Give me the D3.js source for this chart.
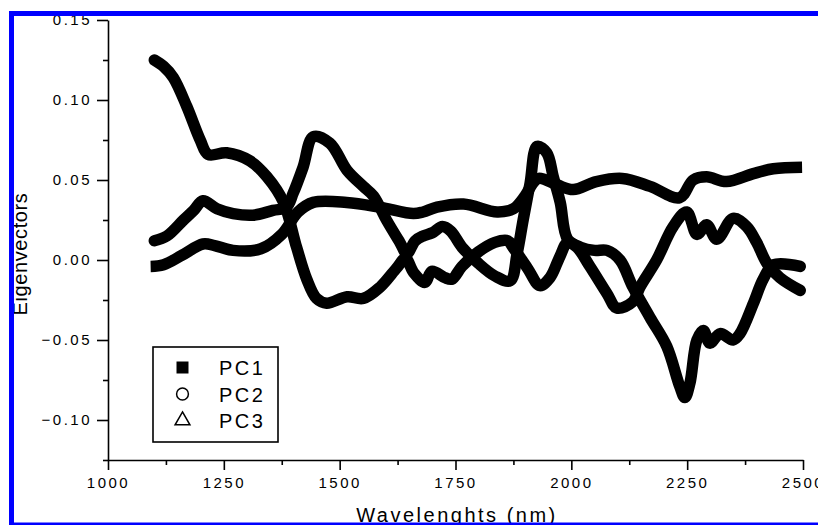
<!DOCTYPE html>
<html>
<head>
<meta charset="utf-8">
<script src="https://cdn.jsdelivr.net/npm/d3@7/dist/d3.min.js"></script>
<style>
  body { margin: 0; background: #fff; }
  svg { display: block; font-family: 'Liberation Sans', Arial, sans-serif; }
</style>
</head>
<body>
<script>
// values
var pc1Wave = [1092, 1120, 1160, 1205, 1230, 1270, 1330, 1375, 1410, 1443, 1515, 1587, 1659, 1680, 1710, 1767, 1840, 1875, 1900, 1917, 1930, 1969, 2004, 2054, 2110, 2170, 2234, 2263, 2292, 2335, 2393, 2436, 2498]
var pc1Val = [-0.004, -0.003, 0.003, 0.010, 0.009, 0.006, 0.007, 0.016, 0.030, 0.036, 0.036, 0.033, 0.029, 0.030, 0.033, 0.035, 0.030, 0.032, 0.040, 0.048, 0.051, 0.047, 0.044, 0.049, 0.051, 0.046, 0.039, 0.050, 0.052, 0.049, 0.054, 0.057, 0.058]

var pc2Wave = [1100, 1120, 1141, 1170, 1199, 1216, 1256, 1306, 1343, 1379, 1407, 1429, 1450, 1472, 1516, 1551, 1587, 1623, 1642, 1660, 1684, 1699, 1727, 1742, 1764, 1799, 1835, 1863, 1874, 1905, 1932, 1954, 1975, 1992, 2012, 2040, 2077, 2098, 2133, 2148, 2184, 2220, 2249, 2271, 2292, 2314, 2349, 2378, 2400, 2422, 2450, 2494]
var pc2Val = [0.125, 0.121, 0.114, 0.096, 0.075, 0.066, 0.067, 0.062, 0.052, 0.036, 0.008, -0.012, -0.024, -0.027, -0.023, -0.024, -0.017, -0.005, 0.001, -0.008, -0.014, -0.007, -0.011, -0.012, -0.004, 0.005, 0.011, 0.012, 0.008, -0.005, -0.016, -0.011, 0.002, 0.011, 0.008, -0.004, -0.021, -0.030, -0.026, -0.017, 0.000, 0.021, 0.030, 0.016, 0.022, 0.013, 0.026, 0.021, 0.011, -0.002, -0.011, -0.019]

var pc3Wave = [1100, 1127, 1163, 1185, 1205, 1235, 1270, 1313, 1356, 1385, 1400, 1421, 1443, 1479, 1516, 1551, 1573, 1601, 1630, 1645, 1663, 1680, 1700, 1722, 1740, 1764, 1799, 1835, 1868, 1883, 1896, 1911, 1926, 1947, 1961, 1976, 1992, 2020, 2050, 2077, 2105, 2133, 2170, 2206, 2234, 2245, 2256, 2271, 2285, 2299, 2321, 2349, 2364, 2393, 2414, 2436, 2494]
var pc3Val = [0.012, 0.015, 0.025, 0.031, 0.037, 0.032, 0.029, 0.028, 0.031, 0.033, 0.042, 0.058, 0.077, 0.073, 0.056, 0.046, 0.040, 0.025, 0.011, 0.004, 0.012, 0.015, 0.017, 0.021, 0.018, 0.008, -0.002, -0.010, -0.013, 0.004, 0.025, 0.048, 0.071, 0.067, 0.052, 0.036, 0.013, 0.008, 0.006, 0.006, 0.000, -0.017, -0.036, -0.054, -0.079, -0.086, -0.077, -0.050, -0.044, -0.052, -0.046, -0.050, -0.046, -0.027, -0.012, -0.003, -0.004]

var xMajorTicks = [1000, 1250, 1500, 1750, 2000, 2250, 2500]
var xMinorTicks = [1125, 1375, 1625, 1875, 2125, 2375]
var yMajorTicks = [-0.10, -0.05, 0.00, 0.05, 0.10, 0.15]
var yMinorTicks = [-0.125, -0.075, -0.025, 0.025, 0.075, 0.125]
var legendLabels = ['PC1', 'PC2', 'PC3']

var svg = d3.select('body').append('svg')
  .attr('width', 818)
  .attr('height', 525)

svg.append('rect').attr('width', 818).attr('height', 525).attr('fill', '#fff')

// plot area in pixels
var x = d3.scaleLinear().domain([1000, 2500]).range([108, 803])
var y = d3.scaleLinear().domain([-0.125, 0.15]).range([460, 20])

function zip (w, v) {
  return w.map(function (d, i) { return { w: d, v: v[i] } })
}

var line = d3.line()
  .x(function (d) { return x(d.w) })
  .y(function (d) { return y(d.v) })
  .curve(d3.curveCatmullRom.alpha(0.5))

// the series: dense symbols in the original, drawn as thick bands here
var series = [
  { name: 'PC1', data: zip(pc1Wave, pc1Val), cap: 'butt' },
  { name: 'PC2', data: zip(pc2Wave, pc2Val), cap: 'round' },
  { name: 'PC3', data: zip(pc3Wave, pc3Val), cap: 'round' }
]

svg.append('g').selectAll('path')
  .data(series)
  .enter().append('path')
  .attr('d', function (d) { return line(d.data) })
  .attr('fill', 'none')
  .attr('stroke', '#000')
  .attr('stroke-width', 11.5)
  .attr('stroke-linejoin', 'round')
  .attr('stroke-linecap', function (d) { return d.cap })

// axes
var xAxis = d3.axisBottom(x).tickValues(xMajorTicks).tickSize(10).tickSizeOuter(0).tickPadding(7)
  .tickFormat(d3.format('d'))
var xMinor = d3.axisBottom(x).tickValues(xMinorTicks).tickSize(5).tickFormat('')
var yAxis = d3.axisLeft(y).tickValues(yMajorTicks).tickSize(11).tickSizeOuter(0).tickPadding(5)
  .tickFormat(d3.format('.2f'))
var yMinor = d3.axisLeft(y).tickValues(yMinorTicks).tickSize(5).tickFormat('')

function styleAxis (g) {
  g.selectAll('path, line').attr('stroke', '#000').attr('stroke-width', 1.6)
  g.selectAll('text')
    .attr('fill', '#000')
    .style('font-size', '15px')
    .style('letter-spacing', '2.5px')
}

svg.append('g').attr('transform', 'translate(0,460)').call(xAxis).call(styleAxis)
svg.append('g').attr('transform', 'translate(0,460)').call(xMinor).call(styleAxis)
  .select('.domain').remove()
svg.append('g').attr('transform', 'translate(108,0)').call(yAxis).call(styleAxis)
svg.append('g').attr('transform', 'translate(108,0)').call(yMinor).call(styleAxis)
  .select('.domain').remove()

// axis titles
svg.append('text')
  .attr('x', 457)
  .attr('y', 522)
  .attr('text-anchor', 'middle')
  .style('font-size', '20px')
  .style('letter-spacing', '2.5px')
  .text('Wavelenghts (nm)')

svg.append('text')
  .attr('transform', 'translate(27,254) rotate(-90)')
  .attr('text-anchor', 'middle')
  .style('font-size', '20px')
  .style('letter-spacing', '0.6px')
  .text('Eigenvectors')

// legend
var legend = svg.append('g')
legend.append('rect')
  .attr('x', 153).attr('y', 347).attr('width', 125).attr('height', 95)
  .attr('fill', '#fff').attr('stroke', '#000').attr('stroke-width', 1.6)

var legendY = d3.scalePoint().domain(legendLabels).range([375, 428])
var symbols = [d3.symbolSquare, d3.symbolCircle, d3.symbolTriangle]
var symbolSizes = [110, 110, 95]

legendLabels.forEach(function (name, i) {
  legend.append('path')
    .attr('transform', 'translate(182.5,' + (legendY(name) - 7.5) + ')')
    .attr('d', d3.symbol().type(symbols[i]).size(symbolSizes[i]))
    .attr('fill', i === 0 ? '#000' : '#fff')
    .attr('stroke', '#000')
    .attr('stroke-width', 1.5)
  legend.append('text')
    .attr('x', 219)
    .attr('y', legendY(name))
    .style('font-size', '20px')
    .style('letter-spacing', '2.5px')
    .text(name)
})

// blue frame
svg.append('rect')
  .attr('x', 11.5).attr('y', 13.5).attr('width', 840).attr('height', 511.5)
  .attr('fill', 'none').attr('stroke', '#0000ff').attr('stroke-width', 5)
</script>
</body>
</html>
